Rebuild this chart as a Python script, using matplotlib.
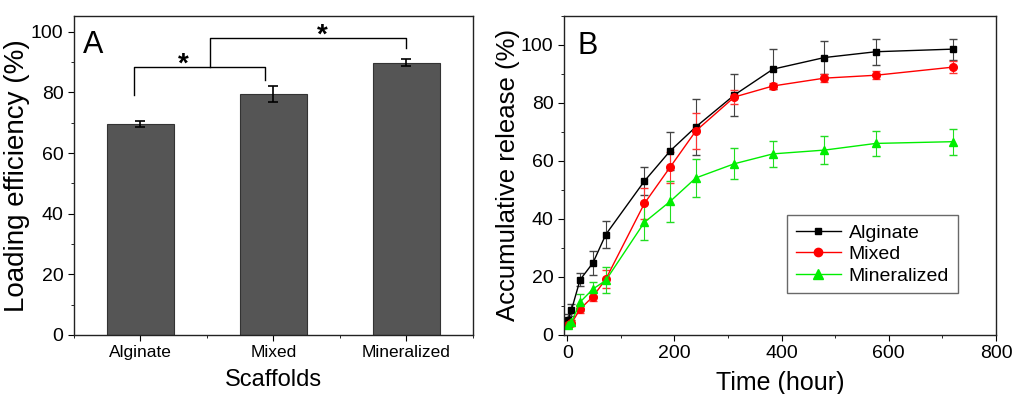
import matplotlib
matplotlib.use('Agg')
import matplotlib.pyplot as plt
from matplotlib.ticker import MultipleLocator
from matplotlib.lines import Line2D

plt.rcParams['font.family'] = ['Liberation Sans', 'DejaVu Sans']

# Panel A: loading efficiency
scaffolds = ['Alginate', 'Mixed', 'Mineralized']
loading = [69.6, 79.4, 89.8]
loading_err = [1.1, 2.6, 1.2]

# Panel B: release profiles
hours = [2, 8, 24, 48, 72, 144, 192, 240, 312, 384, 480, 576, 720]
alginate = [5.2, 8.6, 19.0, 24.8, 34.6, 53.0, 63.4, 71.7, 82.7, 91.6, 95.6, 97.6, 98.5]
alginate_err = [2.0, 2.0, 2.3, 4.2, 4.6, 4.8, 6.7, 9.6, 7.3, 6.8, 5.7, 4.5, 3.6]
mixed = [3.5, 4.0, 8.9, 13.2, 19.2, 45.3, 57.8, 70.3, 82.0, 85.8, 88.5, 89.5, 92.3]
mixed_err = [1.0, 1.0, 1.5, 1.5, 3.0, 5.3, 5.4, 6.3, 2.5, 1.0, 1.4, 1.3, 2.1]
mineral = [3.5, 4.3, 11.3, 15.8, 18.8, 38.8, 46.0, 54.1, 59.0, 62.4, 63.7, 66.0, 66.6]
mineral_err = [1.0, 1.0, 2.9, 2.4, 4.5, 6.2, 7.1, 6.6, 5.4, 4.4, 4.9, 4.3, 4.5]

fig = plt.figure(figsize=(10.23, 3.94), dpi=100)
axA = fig.add_axes([0.0723, 0.150, 0.390, 0.810])
axB = fig.add_axes([0.5513, 0.150, 0.4223, 0.810])

# ---- A ----
pos = [1, 2, 3]
axA.bar(pos, loading, width=0.5, color='#555555', edgecolor='#333333', linewidth=0.8)
axA.errorbar(pos, loading, yerr=loading_err, fmt='none', ecolor='black',
             elinewidth=1.2, capsize=3.5, capthick=1.2)
axA.set_xlim(0.5, 3.5)
axA.set_ylim(0, 105.3)
axA.set_xticks(pos)
axA.set_xticklabels(scaffolds, fontsize=12.5)
axA.xaxis.set_minor_locator(MultipleLocator(0.5))
axA.yaxis.set_major_locator(MultipleLocator(20))
axA.yaxis.set_minor_locator(MultipleLocator(10))
axA.set_ylabel('Loading efficiency (%)', fontsize=20, labelpad=1)
axA.set_xlabel('Scaffolds', fontsize=17, labelpad=6)
axA.text(0.022, 0.955, 'A', transform=axA.transAxes, fontsize=22, va='top')

# significance brackets
axA.plot([0.95, 0.95, 1.94, 1.94], [79.1, 88.5, 88.5, 84.1], color='black', lw=1)
axA.plot([1.52, 1.52, 3.0, 3.0], [88.5, 97.8, 97.8, 94.5], color='black', lw=1)
axA.text(1.32, 84.8, '*', ha='center', va='bottom', fontsize=20, fontweight='bold')
axA.text(2.37, 94.5, '*', ha='center', va='bottom', fontsize=20, fontweight='bold')

# ---- B ----
axB.errorbar(hours, alginate, yerr=alginate_err, color='black', marker='s', ms=5,
             lw=1, elinewidth=0.8, capsize=3, ecolor='#444444')
axB.errorbar(hours, mixed, yerr=mixed_err, color='red', marker='o', ms=5.5,
             lw=1, elinewidth=0.8, capsize=3, ecolor='#ff3333')
axB.errorbar(hours, mineral, yerr=mineral_err, color='#00ee00', marker='^', ms=6,
             lw=1, elinewidth=0.8, capsize=3, ecolor='#22dd22')
axB.set_xlim(-6, 800)
axB.set_ylim(0, 110)
axB.xaxis.set_major_locator(MultipleLocator(200))
axB.xaxis.set_minor_locator(MultipleLocator(100))
axB.yaxis.set_major_locator(MultipleLocator(20))
axB.yaxis.set_minor_locator(MultipleLocator(10))
axB.set_ylabel('Accumulative release (%)', fontsize=18.5, labelpad=1)
axB.set_xlabel('Time (hour)', fontsize=18, labelpad=6)
axB.text(0.032, 0.952, 'B', transform=axB.transAxes, fontsize=22, va='top')
handles = [Line2D([], [], color='black', marker='s', ms=5, lw=1),
           Line2D([], [], color='red', marker='o', ms=6, lw=1),
           Line2D([], [], color='#00ee00', marker='^', ms=7, lw=1)]
leg = axB.legend(handles, ['Alginate', 'Mixed', 'Mineralized'],
                 loc='lower left', bbox_to_anchor=(0.517, 0.13), fontsize=14,
                 frameon=True, fancybox=False, edgecolor='#444444',
                 handlelength=2.3, borderpad=0.45, labelspacing=0.2,
                 handletextpad=0.4, borderaxespad=0)
leg.get_frame().set_linewidth(1)

for ax in (axA, axB):
    ax.tick_params(which='both', direction='out')
    ax.tick_params(axis='y', labelsize=14)
    ax.tick_params(which='major', length=4)
    ax.tick_params(which='minor', length=2.5)
    for s in ax.spines.values():
        s.set_linewidth(1)
        s.set_color('#222222')
axB.tick_params(axis='x', labelsize=14)

fig.savefig('out.png', dpi=100)
